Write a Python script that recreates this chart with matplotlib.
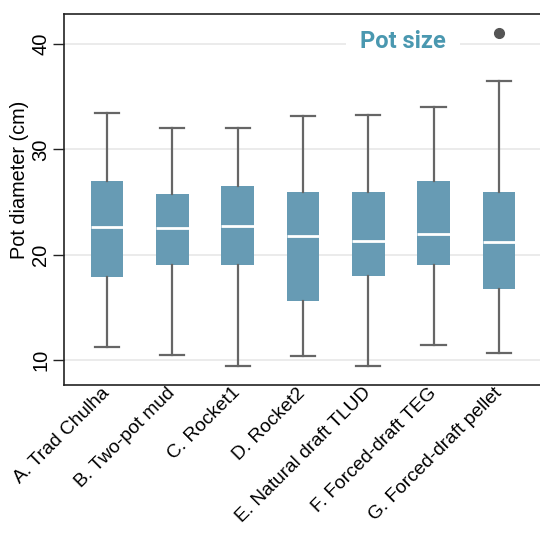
import matplotlib.pyplot as plt

# stove types and box stats (cm)
stoves = ["A. Trad Chulha", "B. Two-pot mud", "C. Rocket1", "D. Rocket2",
          "E. Natural draft TLUD", "F. Forced-draft TEG", "G. Forced-draft pellet"]
whislo = [11.3, 10.5, 9.5, 10.4, 9.5, 11.4, 10.7]
q1 = [17.9, 19.0, 19.0, 15.6, 18.0, 19.0, 16.8]
med = [22.6, 22.5, 22.7, 21.8, 21.3, 22.0, 21.2]
q3 = [27.0, 25.8, 26.5, 26.0, 26.0, 27.0, 26.0]
whishi = [33.5, 32.0, 32.0, 33.2, 33.3, 34.0, 36.5]
outliers = [[], [], [], [], [], [], [41.0]]

box_color = "#679bb4"
title_color = "#4a98b0"

stats = []
for i in range(len(stoves)):
    stats.append({"label": stoves[i], "whislo": whislo[i], "q1": q1[i],
                  "med": med[i], "q3": q3[i], "whishi": whishi[i],
                  "fliers": outliers[i]})

plt.rcParams['font.family'] = ['Liberation Sans', 'DejaVu Sans']

fig = plt.figure(figsize=(5.4, 5.35), dpi=100)
ax = fig.add_axes([64 / 540, 1 - 385 / 535, 1 - 64 / 540, (385 - 14) / 535])

ax.bxp(stats, positions=range(len(stoves)), widths=0.5, capwidths=0.37,
       patch_artist=True,
       boxprops=dict(facecolor=box_color, edgecolor=box_color, linewidth=0),
       medianprops=dict(color="white", linewidth=2),
       whiskerprops=dict(color="#666666", linewidth=1.6),
       capprops=dict(color="#666666", linewidth=1.6),
       flierprops=dict(marker="o", markerfacecolor="#555555",
                       markeredgecolor="#555555", markersize=7))

ax.set_xlim(-0.66, 6.63)
ax.set_ylim(7.65, 42.85)
ax.set_yticks([10, 20, 30, 40])
ax.yaxis.grid(True, color="#e8e8e8", linewidth=1.2)
ax.set_axisbelow(True)

for lab in ax.get_yticklabels():
    lab.set_rotation(90)
    lab.set_va("center")
ax.tick_params(axis="y", labelsize=14.5, length=8, width=1, color="#222222", pad=2)
ax.tick_params(axis="x", length=0, labelsize=13.8, pad=4)
ax.set_xticks(range(len(stoves)))
ax.set_xticklabels(stoves, rotation=45, ha="right", va="center",
                   rotation_mode="anchor")

ax.set_ylabel("Pot diameter (cm)", fontsize=14.3)
ax.yaxis.set_label_coords(-0.074, 0.553)

for side in ["left", "bottom", "top"]:
    ax.spines[side].set_color("#222222")
    ax.spines[side].set_linewidth(1.2)
ax.spines["right"].set_visible(False)

ax.text(4.53, 40.25, "Pot size", ha="center", va="center", fontsize=17,
        fontweight="bold", color=title_color, family="Roboto",
        bbox=dict(facecolor="white", edgecolor="none", pad=10))

fig.savefig("out.png", dpi=100)
